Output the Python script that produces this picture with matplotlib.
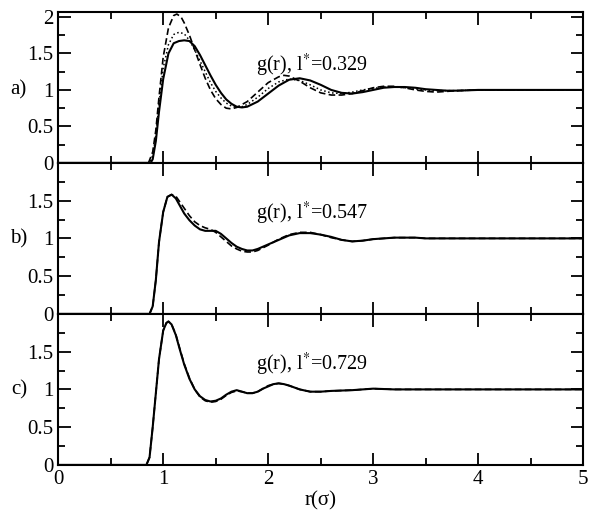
import matplotlib
matplotlib.use('Agg')
import matplotlib.pyplot as plt
from matplotlib.ticker import MultipleLocator

plt.rcParams['font.family'] = 'Liberation Serif'
plt.rcParams['mathtext.fontset'] = 'stix'

# panel a, l* = 0.329
ra_solid = [0, 0.88, 0.9, 0.93, 0.96, 1.0, 1.05, 1.1, 1.15, 1.2, 1.25, 1.3, 1.35, 1.4, 1.45, 1.5,
            1.55, 1.6, 1.65, 1.7, 1.75, 1.8, 1.9, 2.0, 2.1, 2.2, 2.3, 2.4, 2.5, 2.6, 2.7, 2.8,
            2.9, 3.0, 3.1, 3.2, 3.3, 3.4, 3.5, 3.6, 3.7, 3.8, 4.0, 5.0]
ga_solid = [0, 0, 0.05, 0.3, 0.7, 1.15, 1.5, 1.64, 1.67, 1.68, 1.67, 1.6, 1.48, 1.34, 1.2, 1.07,
            0.96, 0.87, 0.81, 0.77, 0.76, 0.77, 0.84, 0.95, 1.06, 1.14, 1.16, 1.13, 1.07, 1.0, 0.96, 0.95,
            0.97, 1.0, 1.03, 1.04, 1.04, 1.03, 1.01, 1.0, 0.99, 0.99, 1.0, 1.0]
ra_dash = [0, 0.86, 0.9, 0.93, 0.96, 1.0, 1.05, 1.1, 1.13, 1.17, 1.2, 1.25, 1.3, 1.35, 1.4, 1.45,
           1.5, 1.55, 1.6, 1.65, 1.7, 1.8, 1.9, 2.0, 2.1, 2.15, 2.2, 2.3, 2.4, 2.5, 2.6, 2.7,
           2.8, 2.9, 3.0, 3.1, 3.2, 3.3, 3.4, 3.5, 3.6, 3.7, 3.8, 4.0, 5.0]
ga_dash = [0, 0, 0.15, 0.45, 0.9, 1.45, 1.85, 2.02, 2.04, 2.0, 1.92, 1.75, 1.55, 1.35, 1.16, 1.0,
           0.88, 0.8, 0.75, 0.74, 0.76, 0.84, 0.97, 1.1, 1.18, 1.2, 1.19, 1.12, 1.03, 0.96, 0.93, 0.93,
           0.95, 0.99, 1.03, 1.05, 1.05, 1.03, 1.0, 0.98, 0.97, 0.98, 0.99, 1.0, 1.0]
ra_dot = [0, 0.87, 0.9, 0.93, 0.96, 1.0, 1.05, 1.1, 1.15, 1.2, 1.25, 1.3, 1.35, 1.4, 1.45, 1.5,
          1.55, 1.6, 1.65, 1.7, 1.75, 1.8, 1.9, 2.0, 2.1, 2.2, 2.3, 2.4, 2.5, 2.6, 2.7, 2.8,
          2.9, 3.0, 3.1, 3.2, 3.3, 3.4, 3.5, 3.6, 3.8, 4.0, 5.0]
ga_dot = [0, 0, 0.1, 0.38, 0.8, 1.3, 1.62, 1.76, 1.79, 1.77, 1.68, 1.55, 1.4, 1.25, 1.1, 0.98,
          0.89, 0.82, 0.78, 0.76, 0.77, 0.8, 0.9, 1.02, 1.11, 1.15, 1.13, 1.07, 1.0, 0.96, 0.95, 0.97,
          1.0, 1.02, 1.04, 1.04, 1.03, 1.01, 1.0, 0.99, 0.99, 1.0, 1.0]

# panel b, l* = 0.547
rb = [0, 0.87, 0.9, 0.93, 0.96, 1.0, 1.04, 1.08, 1.12, 1.16, 1.2, 1.25, 1.3, 1.35, 1.4, 1.45,
      1.5, 1.55, 1.6, 1.65, 1.7, 1.75, 1.8, 1.85, 1.9, 2.0, 2.1, 2.2, 2.3, 2.4, 2.5, 2.6,
      2.7, 2.8, 2.9, 3.0, 3.1, 3.2, 3.3, 3.4, 3.5, 3.8, 4.0, 5.0]
gb_solid = [0, 0, 0.1, 0.45, 0.95, 1.35, 1.55, 1.58, 1.53, 1.43, 1.33, 1.24, 1.17, 1.12, 1.1, 1.1,
            1.1, 1.06, 1.0, 0.94, 0.89, 0.86, 0.84, 0.84, 0.86, 0.92, 0.98, 1.04, 1.07, 1.07, 1.05, 1.02,
            0.98, 0.96, 0.97, 0.99, 1.0, 1.01, 1.01, 1.01, 1.0, 1.0, 1.0, 1.0]
gb_dash = [0, 0, 0.1, 0.45, 0.95, 1.35, 1.55, 1.58, 1.56, 1.48, 1.4, 1.3, 1.22, 1.17, 1.14, 1.12,
           1.08, 1.02, 0.96, 0.9, 0.86, 0.83, 0.82, 0.82, 0.84, 0.91, 0.99, 1.05, 1.08, 1.08, 1.05, 1.01,
           0.98, 0.96, 0.97, 0.99, 1.0, 1.01, 1.01, 1.01, 1.0, 1.0, 1.0, 1.0]

# panel c, l* = 0.729
rc = [0, 0.84, 0.87, 0.9, 0.93, 0.96, 1.0, 1.03, 1.05, 1.08, 1.12, 1.16, 1.2, 1.25, 1.3, 1.35,
      1.4, 1.45, 1.5, 1.55, 1.6, 1.65, 1.7, 1.75, 1.8, 1.85, 1.9, 1.95, 2.0, 2.05, 2.1, 2.15,
      2.2, 2.3, 2.4, 2.5, 2.6, 2.8, 3.0, 3.2, 3.5, 5.0]
gc_solid = [0, 0, 0.1, 0.5, 0.95, 1.4, 1.78, 1.88, 1.9, 1.86, 1.72, 1.52, 1.33, 1.14, 1.0, 0.91,
            0.86, 0.84, 0.85, 0.88, 0.93, 0.97, 0.99, 0.97, 0.95, 0.95, 0.97, 1.01, 1.04, 1.07, 1.08, 1.07,
            1.05, 1.0, 0.97, 0.97, 0.98, 0.99, 1.01, 1.0, 1.0, 1.0]
gc_dash = [0, 0, 0.1, 0.5, 0.95, 1.4, 1.78, 1.88, 1.9, 1.86, 1.73, 1.53, 1.34, 1.15, 1.0, 0.9,
           0.85, 0.83, 0.84, 0.87, 0.92, 0.96, 0.98, 0.97, 0.95, 0.95, 0.97, 1.01, 1.05, 1.07, 1.08, 1.07,
           1.05, 1.0, 0.97, 0.97, 0.98, 0.99, 1.01, 1.0, 1.0, 1.0]

labels = ['a)', 'b)', 'c)']
titles = [r'g(r), l$^{*}$=0.329', r'g(r), l$^{*}$=0.547', r'g(r), l$^{*}$=0.729']

fig, axes = plt.subplots(3, 1, figsize=(6, 5.16), dpi=100, sharex=True)
fig.subplots_adjust(left=0.097, right=0.972, top=0.977, bottom=0.099, hspace=0)

ax = axes[0]
ax.plot(ra_dash, ga_dash, 'k--', lw=1.2, dashes=(4, 2))
ax.plot(ra_dot, ga_dot, 'k:', lw=1.1)
ax.plot(ra_solid, ga_solid, 'k-', lw=1.5)
axes[1].plot(rb, gb_dash, 'k--', lw=1.2, dashes=(4, 2))
axes[1].plot(rb, gb_solid, 'k-', lw=1.5)
axes[2].plot(rc, gc_dash, 'k--', lw=1.2, dashes=(4, 2))
axes[2].plot(rc, gc_solid, 'k-', lw=1.5)

tops = [2.07, 2.0, 2.0]
for i, ax in enumerate(axes):
    ax.set_xlim(0, 5)
    ax.set_ylim(0, tops[i])
    if i == 0:
        ax.set_yticks([0, 0.5, 1, 1.5, 2])
        ax.set_yticklabels(['0', '0.5', '1', '1.5', '2'])
    else:
        ax.set_yticks([0, 0.5, 1, 1.5])
        ax.set_yticklabels(['0', '0.5', '1', '1.5'])
    ax.xaxis.set_major_locator(MultipleLocator(1))
    ax.xaxis.set_minor_locator(MultipleLocator(0.5))
    ax.yaxis.set_minor_locator(MultipleLocator(0.25))
    ax.tick_params(which='both', direction='in', top=True, right=True, labelsize=15, width=1.3)
    ax.tick_params(which='major', length=9)
    ax.tick_params(which='minor', length=5)
    for s in ax.spines.values():
        s.set_linewidth(1.5)
    ax.text(-0.075, 1.0, labels[i], transform=ax.get_yaxis_transform(), fontsize=15,
            ha='center', va='center')
    ax.text(1.88, 1.33, titles[i], fontsize=14.5, ha='left', va='center')

axes[2].xaxis.set_major_formatter(plt.FuncFormatter(lambda v, p: '%d' % v))
axes[2].set_xlabel('r(σ)', fontsize=15, labelpad=2)

plt.savefig('out.png')
